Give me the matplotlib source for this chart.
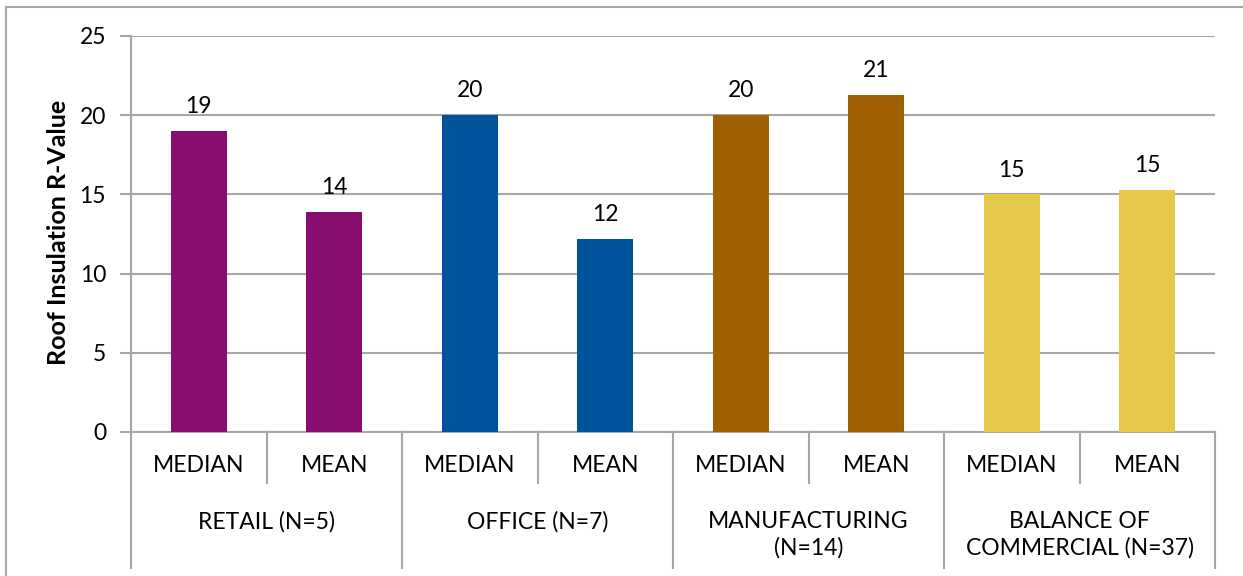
import matplotlib
matplotlib.use("Agg")
import matplotlib.pyplot as plt
from matplotlib.lines import Line2D
import matplotlib.transforms as mtrans

plt.rcParams['font.family'] = ['Lato', 'DejaVu Sans']

groups = ["RETAIL (N=5)", "OFFICE (N=7)", "MANUFACTURING\n(N=14)", "BALANCE OF\nCOMMERCIAL (N=37)"]
stats = ["MEDIAN", "MEAN"]
medians = [19.0, 20.0, 20.0, 15.0]
means = [13.9, 12.2, 21.3, 15.3]
colors = ["#870E6F", "#00549B", "#A05F00", "#E5C84C"]
yticks = [0, 5, 10, 15, 20, 25]
ylabel = "Roof Insulation R-Value"

W, H = 1243, 576
fig = plt.figure(figsize=(W/100, H/100), dpi=100)
ax = fig.add_axes([131/W, 1-432/H, (1215-131)/W, (432-36)/H])

grid_c = "#A6A6A6"
fs = 16.5
xs, vals, cols = [], [], []
for i in range(len(groups)):
    xs += [2*i, 2*i+1]
    vals += [medians[i], means[i]]
    cols += [colors[i], colors[i]]

bars = ax.bar(xs, vals, width=0.41, color=cols, zorder=3)
for b, v in zip(bars, vals):
    ax.annotate(f"{v:.0f}", (b.get_x()+b.get_width()/2, v), xytext=(0, 10),
                textcoords="offset points", ha="center", va="bottom", fontsize=fs, color="black")

ax.set_xlim(-0.5, 2*len(groups)-0.5)
ax.set_ylim(0, 25)
ax.set_yticks(yticks)
ax.set_yticklabels([str(t) for t in yticks], fontsize=fs)
ax.yaxis.grid(True, color=grid_c, linewidth=1.5, zorder=0)
ax.set_axisbelow(True)
for s in ["top", "right"]:
    ax.spines[s].set_visible(False)
ax.spines["left"].set_color(grid_c)
ax.spines["left"].set_linewidth(1.5)
ax.spines["bottom"].set_color(grid_c)
ax.spines["bottom"].set_linewidth(1.5)
ax.tick_params(axis="y", length=8, width=1.5, color=grid_c, pad=10)
ax.set_xticks([])
ax.text(58/W, 1-232/H, ylabel, transform=fig.transFigure, rotation=90,
        ha="center", va="center", fontsize=18, fontweight="bold")

trans = mtrans.blended_transform_factory(ax.transData, fig.transFigure)
def fy(py):
    return 1 - py/H

# separators
for i in range(len(groups)+1):
    x = 2*i - 0.5
    ax.add_line(Line2D([x, x], [fy(432), fy(568)], transform=trans, color=grid_c, lw=1.5, clip_on=False))
for i in range(len(groups)):
    x = 2*i + 0.5
    ax.add_line(Line2D([x, x], [fy(432), fy(483)], transform=trans, color=grid_c, lw=1.5, clip_on=False))

for x in xs:
    ax.text(x, fy(466), stats[x % 2], transform=trans, ha="center", va="center", fontsize=fs)
for i, g in enumerate(groups):
    ax.text(2*i+0.5, fy(511), g, transform=trans, ha="center", va="top", fontsize=fs, linespacing=1.3)

# outer border
fig.add_artist(Line2D([6/W, 1], [fy(7), fy(7)], transform=fig.transFigure, color=grid_c, lw=1.5))
fig.add_artist(Line2D([6/W, 6/W], [fy(7), 0], transform=fig.transFigure, color=grid_c, lw=1.5))

fig.savefig("out.png", dpi=100)
